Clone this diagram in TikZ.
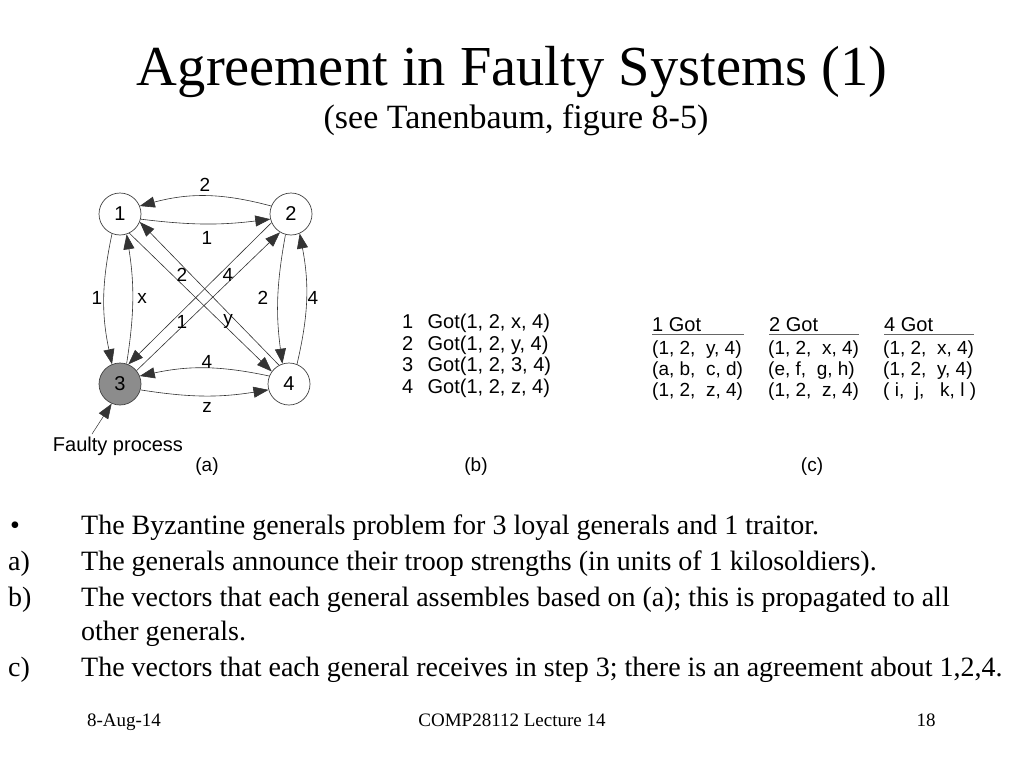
\documentclass[tikz,border=0pt]{standalone}
\usepackage{fontspec}
\setmainfont{Liberation Serif}
\setsansfont{Liberation Sans}
\usetikzlibrary{arrows.meta}
\newcommand{\fs}[1]{\fontsize{#1}{#1}\selectfont}
\begin{document}
\begin{tikzpicture}[x=1pt,y=-1pt,
  >={Triangle[length=15pt,width=11pt]},
  proc/.style={circle,draw=black!75,line width=0.7pt,minimum size=42pt,inner sep=0pt,font=\sffamily\fs{20}},
  msg/.style={->,draw=black!80,line width=0.6pt},
  lab/.style={font=\sffamily\fs{19},inner sep=0pt},
  sans/.style={font=\sffamily\fs{20},inner sep=0pt,anchor=base west},
  cell/.style={font=\sffamily\fs{19},inner sep=0pt,anchor=base west},
  body/.style={font=\fs{28},inner sep=0pt,anchor=base west},
  foot/.style={font=\fs{19},inner sep=0pt,anchor=base},
  uline/.style={draw=black!60,line width=0.8pt}]
\useasboundingbox (0,0) rectangle (1024,768);
\fill[white] (0,0) rectangle (1024,768);

% title
\node[font=\fs{56.5},inner sep=0pt,anchor=base] (title) at (512,85) {Agreement in Faulty Systems (1)};
\node[font=\fs{34},inner sep=0pt,anchor=base] (subtitle) at (516,128) {(see Tanenbaum, figure 8-5)};

% graph (a)
\node[proc] (n1) at (120,214) {1};
\node[proc] (n2) at (291,214) {2};
\node[proc,fill=black!45] (n3) at (120,384) {3};
\node[proc] (n4) at (289,384) {4};

\draw[msg] (n2.158) to[bend right=15] (n1.22);
\draw[msg] (n1.-14) to[bend right=7] (n2.-166);
\draw[msg] (n1.-112) to[bend right=12] (n3.112);
\draw[msg] (n3.72) to[bend right=9] (n1.-72);
\draw[msg] (n2.-105) to[bend right=9] (n4.108);
\draw[msg] (n4.68) to[bend right=12] (n2.-66);
\draw[msg] (n4.158) to[bend right=12] (n3.22);
\draw[msg] (n3.-16) to[bend right=9] (n4.-164);
\draw[msg] (n1.-64) -- (n4.144);
\draw[msg] (n4.118) -- (n1.-22);
\draw[msg] (n2.204) -- (n3.67);
\draw[msg] (n3.39) -- (n2.239);

\node[lab] (l21) at (205,185) {2};
\node[lab] (l12) at (207,238) {1};
\node[lab] (l13) at (97,298) {1};
\node[lab] (l31) at (142,298) {x};
\node[lab] (l23) at (182,275) {2};
\node[lab] (l41) at (228,275) {4};
\node[lab] (l14) at (182,322) {1};
\node[lab] (l32) at (228,321) {y};
\node[lab] (l24) at (263,298) {2};
\node[lab] (l42) at (313,298) {4};
\node[lab] (l43) at (207,362) {4};
\node[lab] (l34) at (207,407) {z};

\node[lab,font=\sffamily\fs{20},anchor=base] (faulty) at (118,451) {Faulty process};
\coordinate (fstart) at (92,434);
\draw[msg,line width=0.5pt] (fstart) -- (n3.-113);

\node[lab] (capa) at (207,467) {(a)};
\node[lab] (capb) at (476,467) {(b)};
\node[lab] (capc) at (812,467) {(c)};

% table (b)
\node[sans] (b1) at (402,328) {\makebox[25.5pt][l]{1}Got(1, 2, x, 4)};
\node[sans] (b2) at (402,350) {\makebox[25.5pt][l]{2}Got(1, 2, y, 4)};
\node[sans] (b3) at (402,371.5) {\makebox[25.5pt][l]{3}Got(1, 2, 3, 4)};
\node[sans] (b4) at (402,393) {\makebox[25.5pt][l]{4}Got(1, 2, z, 4)};

% table (c)
\node[cell,font=\sffamily\fs{20}] (h1) at (652,331) {1 Got};
\node[cell,font=\sffamily\fs{20}] (h2) at (769,331) {2 Got};
\node[cell,font=\sffamily\fs{20}] (h4) at (884,331) {4 Got};
\coordinate (u1a) at (652,334); \coordinate (u1b) at (744,334);
\coordinate (u2a) at (769,334); \coordinate (u2b) at (859,334);
\coordinate (u4a) at (884,334); \coordinate (u4b) at (974,334);
\draw[uline] (u1a) -- (u1b);
\draw[uline] (u2a) -- (u2b);
\draw[uline] (u4a) -- (u4b);

\node[cell] (c11) at (652,354) {(1, 2,\ \ y, 4)};
\node[cell] (c12) at (652,375) {(a, b,\ \ c, d)};
\node[cell] (c13) at (652,396) {(1, 2,\ \ z, 4)};
\node[cell] (c21) at (768,354) {(1, 2,\ \ x, 4)};
\node[cell] (c22) at (768,375) {(e, f,\ \ g, h)};
\node[cell] (c23) at (768,396) {(1, 2,\ \ z, 4)};
\node[cell] (c41) at (883,354) {(1, 2,\ \ x, 4)};
\node[cell] (c42) at (883,375) {(1, 2,\ \ y, 4)};
\node[cell] (c43) at (883,396) {( i,\ \ j,\ \ \ k, l )};

% bullet text
\node[body] (m0) at (10,534) {\textbullet};
\node[body] (t0) at (81,534) {The Byzantine generals problem for 3 loyal generals and 1 traitor.};
\node[body] (ma) at (8,570) {a)};
\node[body] (ta) at (81,570) {The generals announce their troop strengths (in units of 1 kilosoldiers).};
\node[body] (mb) at (8,606) {b)};
\node[body] (tb) at (81,606) {The vectors that each general assembles based on (a); this is propagated to all};
\node[body] (tb2) at (81,640) {other generals.};
\node[body] (mc) at (8,676) {c)};
\node[body] (tc) at (81,676) {The vectors that each general receives in step 3; there is an agreement about 1,2,4.};

% footer
\node[foot] (f1) at (124,726) {8-Aug-14};
\node[foot] (f2) at (512,726) {COMP28112 Lecture 14};
\node[foot] (f3) at (926,726) {18};
\end{tikzpicture}
\end{document}
